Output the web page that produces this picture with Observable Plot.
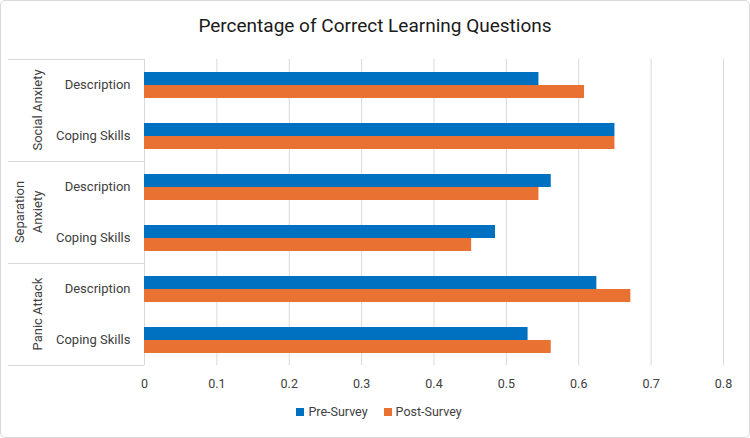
<!DOCTYPE html>
<html>
<head>
<meta charset="utf-8">
<script src="https://cdn.jsdelivr.net/npm/d3@7"></script>
<script src="https://cdn.jsdelivr.net/npm/@observablehq/plot@0.6"></script>
<style>
  html, body { margin: 0; padding: 0; background: #fff; }
  #chart {
    position: relative; width: 750px; height: 438px; overflow: hidden;
    font-family: Roboto, "Liberation Sans", sans-serif; color: #404040;
  }
  #frame {
    position: absolute; inset: 0; border: 1px solid #d9d9d9; border-radius: 5px;
    pointer-events: none;
  }
  #title {
    height: 48px; line-height: 52px; text-align: center;
    font-size: 19px; color: #1a1a1a;
  }
  #legend {
    display: flex; justify-content: center; gap: 16px; margin-top: 4px;
    font-size: 12.5px; color: #404040; padding-left: 8px;
  }
  #legend span.item { display: inline-flex; align-items: center; gap: 4px; }
  #legend span.sw { display: inline-block; width: 8px; height: 8px; }
</style>
</head>
<body>
<div id="chart">
  <div id="title">Percentage of Correct Learning Questions</div>
  <div id="plot"></div>
  <div id="legend"></div>
  <div id="frame"></div>
</div>
<script>
// Survey results: share of learning questions answered correctly
const groups = ["Social Anxiety", "Separation Anxiety", "Panic Attack"];
const topics = ["Description", "Coping Skills"];
const series = ["Pre-Survey", "Post-Survey"];
const preSurvey  = [0.545, 0.650, 0.562, 0.485, 0.625, 0.530];
const postSurvey = [0.608, 0.650, 0.545, 0.452, 0.672, 0.562];
const xTicks = [0, 0.1, 0.2, 0.3, 0.4, 0.5, 0.6, 0.7, 0.8];
const colors = ["#0070C0", "#E97132"];

// One row per group/topic pair, keyed so repeated topic names stay distinct
const keys = groups.flatMap(g => topics.map(t => `${g}|${t}`));
const rows = keys.flatMap((k, i) => [
  {key: k, series: series[0], value: preSurvey[i]},
  {key: k, series: series[1], value: postSurvey[i]}
]);

const marginLeft = 144;
const grid = "#d9d9d9";

const chart = Plot.plot({
  width: 750,
  height: 352,
  marginTop: 10,
  marginBottom: 35,
  marginLeft,
  marginRight: 27,
  style: {fontFamily: "Roboto, 'Liberation Sans', sans-serif", color: "#404040"},
  x: {domain: [0, 0.8]},
  y: {domain: series, paddingInner: 0, paddingOuter: 0.92, axis: null},
  fy: {domain: keys, padding: 0, axis: null},
  color: {domain: series, range: colors},
  marks: [
    Plot.gridX(xTicks, {stroke: grid, strokeOpacity: 1, strokeWidth: 1}),
    Plot.barX(rows, {fy: "key", y: "series", x: "value", fill: "series"}),
    Plot.axisFy({
      anchor: "left", tickSize: 0, tickPadding: 14, label: null, fontSize: 13,
      tickFormat: k => k.split("|")[1]
    }),
    Plot.axisX({
      ticks: xTicks, tickSize: 0, tickPadding: 14, label: null, fontSize: 12.5,
      tickFormat: d => String(+d.toFixed(1))
    })
  ]
});
document.getElementById("plot").appendChild(chart);

// Hierarchical group labels and separators on the left, placed with the fy scale
const fy = chart.scale("fy");
const svg = d3.select(chart);
const side = svg.append("g");
const lineGap = 18;
groups.forEach((g, gi) => {
  const first = keys[gi * topics.length];
  const last = keys[gi * topics.length + topics.length - 1];
  const top = fy.apply(first);
  const bottom = fy.apply(last) + fy.bandwidth;
  side.append("line")
    .attr("x1", 8).attr("x2", marginLeft).attr("y1", top + 0.5).attr("y2", top + 0.5)
    .attr("stroke", grid);
  if (gi === groups.length - 1) {
    side.append("line")
      .attr("x1", 8).attr("x2", marginLeft).attr("y1", bottom + 0.5).attr("y2", bottom + 0.5)
      .attr("stroke", grid);
  }
  const lines = g.length > 15 ? g.split(" ") : [g];
  const cy = (top + bottom) / 2;
  lines.forEach((ln, li) => {
    const x = marginLeft - 107 - (lines.length - 1 - li) * lineGap;
    side.append("text")
      .attr("transform", `translate(${x},${cy}) rotate(-90)`)
      .attr("text-anchor", "middle")
      .attr("dominant-baseline", "central")
      .attr("font-size", 13)
      .attr("fill", "#404040")
      .text(ln);
  });
});

// Legend
const legend = d3.select("#legend");
series.forEach((s, i) => {
  const item = legend.append("span").attr("class", "item");
  item.append("span").attr("class", "sw").style("background", colors[i]);
  item.append("span").text(s);
});
</script>
</body>
</html>
